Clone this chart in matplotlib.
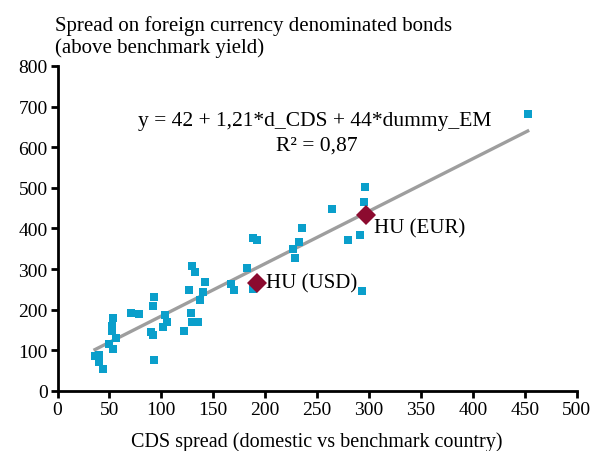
import matplotlib.pyplot as plt

plt.rcParams['font.family'] = ['Liberation Serif', 'DejaVu Serif']

# CDS spread vs bond spread
cds = [36.1, 40.2, 40.2, 44.1, 49.9, 53.1, 56.3, 52.2, 52.2, 53.1,
       70.7, 78.9, 92.9, 92.2, 90.0, 92.2, 93.2, 103.5, 105.7, 101.8,
       122.0, 128.5, 129.2, 134.9, 126.6, 140.3, 136.7, 129.2, 132.3, 142.4,
       166.7, 169.9, 182.1, 187.9, 192.3, 187.9, 235.0, 232.7, 226.4, 228.6,
       263.9, 279.9, 291.1, 295.9, 295.2, 292.8, 452.6]
spread = [85.5, 87.9, 70.7, 53.0, 115.8, 103.4, 130.5, 148.5, 160.8, 179.1,
          190.9, 189.7, 230.3, 208.1, 144.6, 136.7, 76.4, 187.9, 170.7, 158.4,
          147.0, 192.1, 170.7, 170.7, 247.5, 243.1, 224.9, 308.6, 292.4, 268.5,
          263.5, 248.8, 302.2, 376.1, 370.2, 251.2, 401.5, 366.3, 349.8, 326.8,
          448.3, 371.9, 382.5, 501.7, 464.8, 247.0, 680.5]

hu_labels = ['HU (USD)', 'HU (EUR)']
hu_cds = [192.5, 296.9]
hu_spread = [265.3, 433.5]

fit_x = [36.1, 452.6]
fit_y = [101.7, 639.7]

fig = plt.figure(figsize=(5.96, 4.52), dpi=100)
ax = fig.add_axes([0.0965, 0.133, 0.8715, 0.719])

ax.plot(fit_x, fit_y, color='#9e9e9e', lw=2.4, zorder=1)
ax.scatter(cds, spread, marker='s', s=34, color='#0a9fcb', lw=0, zorder=2)
ax.plot(hu_cds, hu_spread, 'D', color='#8c0b2f', ms=10, mew=0, zorder=3)

ax.text(hu_cds[0] + 8, hu_spread[0], hu_labels[0], fontsize=15, va='center')
ax.text(hu_cds[1] + 8, hu_spread[1] - 32, hu_labels[1], fontsize=15, va='center')

ax.text(248, 665, 'y = 42 + 1,21*d_CDS + 44*dummy_EM', fontsize=15.5,
        ha='center', va='center')
ax.text(250, 606, 'R² = 0,87', fontsize=15.5, ha='center', va='center')

ax.set_xlim(0, 500)
ax.set_ylim(0, 800)
ax.set_xticks(range(0, 501, 50))
ax.set_yticks(range(0, 801, 100))
ax.tick_params(labelsize=14, width=2, length=5, pad=2)
for s in ['top', 'right']:
    ax.spines[s].set_visible(False)
for s in ['left', 'bottom']:
    ax.spines[s].set_linewidth(2)

ax.set_xlabel('CDS spread (domestic vs benchmark country)', fontsize=14.5, labelpad=10)
fig.text(0.093, 1 - 31 / 452, 'Spread on foreign currency denominated bonds',
         fontsize=15, ha='left', va='baseline')
fig.text(0.093, 1 - 53 / 452, '(above benchmark yield)',
         fontsize=15, ha='left', va='baseline')

fig.savefig('out.png', dpi=100)
